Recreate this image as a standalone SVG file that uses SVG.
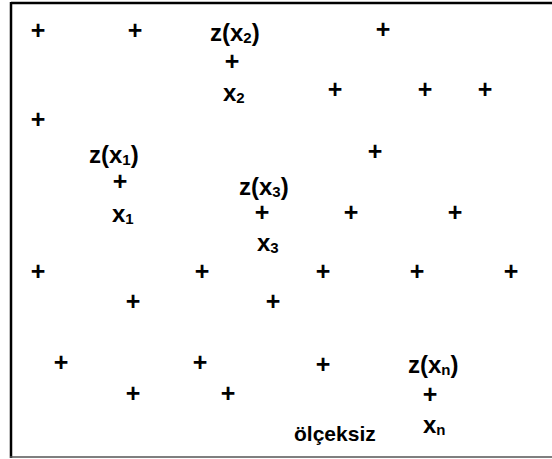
<svg xmlns="http://www.w3.org/2000/svg" width="552" height="459" viewBox="0 0 552 459">
<style>
.p{font-family:"Liberation Sans",Arial,sans-serif;font-size:25px;font-weight:bold;text-anchor:middle;fill:#000}
.l{font-family:"Liberation Sans",Arial,sans-serif;font-size:24px;font-weight:bold;fill:#000}
.s{font-size:15px}
.c{font-family:"Liberation Sans",Arial,sans-serif;font-size:21px;font-weight:bold;fill:#000}
</style>
<rect width="552" height="459" fill="#fff"/>
<g id="frame" fill="none">
<line x1="11" y1="3" x2="552" y2="3" stroke="#000" stroke-width="2.5"/>
<line x1="11" y1="2" x2="11" y2="458" stroke="#000" stroke-width="2.5"/>
<line x1="10" y1="457" x2="552" y2="457" stroke="#555" stroke-width="1.5"/>
</g>
<g id="points">
<text class="p" x="38" y="39">+</text>
<text class="p" x="135" y="39">+</text>
<text class="p" x="383" y="38">+</text>
<text class="p" x="232" y="70">+</text>
<text class="p" x="335" y="98">+</text>
<text class="p" x="425" y="98">+</text>
<text class="p" x="485" y="98">+</text>
<text class="p" x="38" y="128">+</text>
<text class="p" x="375" y="160">+</text>
<text class="p" x="120" y="190">+</text>
<text class="p" x="262" y="221">+</text>
<text class="p" x="351" y="221">+</text>
<text class="p" x="455" y="221">+</text>
<text class="p" x="38" y="280">+</text>
<text class="p" x="202" y="280">+</text>
<text class="p" x="323" y="280">+</text>
<text class="p" x="417" y="280">+</text>
<text class="p" x="511" y="280">+</text>
<text class="p" x="133" y="310">+</text>
<text class="p" x="273" y="310">+</text>
<text class="p" x="61" y="371">+</text>
<text class="p" x="200" y="371">+</text>
<text class="p" x="323" y="373">+</text>
<text class="p" x="133" y="402">+</text>
<text class="p" x="228" y="402">+</text>
<text class="p" x="430" y="403">+</text>
</g>
<g id="z2"><text class="l" x="210" y="41">z(x<tspan class="s" dy="2">2</tspan><tspan dy="-2">)</tspan></text></g>
<g id="x2"><text class="l" x="223" y="101">x<tspan class="s" dy="2">2</tspan></text></g>
<g id="z1"><text class="l" x="89" y="163">z(x<tspan class="s" dy="2">1</tspan><tspan dy="-2">)</tspan></text></g>
<g id="x1"><text class="l" x="112" y="222">x<tspan class="s" dy="2">1</tspan></text></g>
<g id="z3"><text class="l" x="239" y="195">z(x<tspan class="s" dy="2">3</tspan><tspan dy="-2">)</tspan></text></g>
<g id="x3"><text class="l" x="257" y="251">x<tspan class="s" dy="2">3</tspan></text></g>
<g id="zn"><text class="l" x="408" y="373">z(x<tspan class="s" dy="2">n</tspan><tspan dy="-2">)</tspan></text></g>
<g id="xn"><text class="l" x="423" y="433">x<tspan class="s" dy="2">n</tspan></text></g>
<g id="scale"><text class="c" x="294" y="441">ölçeksiz</text></g>
</svg>
